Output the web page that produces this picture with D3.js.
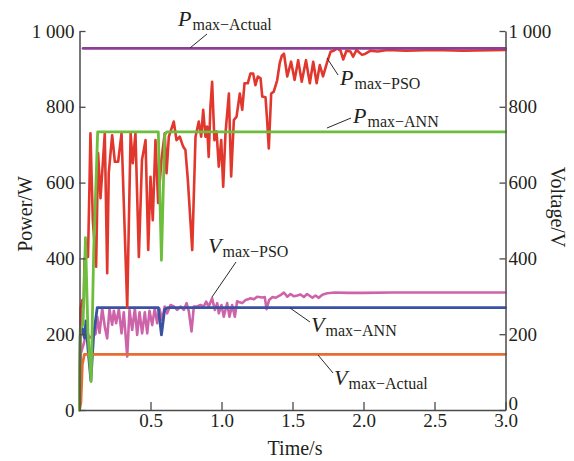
<!DOCTYPE html>
<html>
<head>
<meta charset="utf-8">
<script src="https://cdn.jsdelivr.net/npm/d3@7"></script>
<style>
  html, body { margin: 0; padding: 0; background: #fff; }
  svg { display: block; }
  text { font-family: "Liberation Serif", "Times New Roman", serif; fill: #231f20; }
</style>
</head>
<body>
<svg id="chart" width="574" height="461"></svg>
<script>
// Time / value pairs for each tracked quantity (power in W, voltage in V)
const pActual = [[0.025, 954], [3, 954]];
const pPso = [
  [0, 0], [0.008, 270], [0.02, 290], [0.03, 270], [0.035, 400], [0.06, 404], [0.07, 589], [0.077, 730],
  [0.094, 501], [0.117, 378], [0.131, 678], [0.148, 559], [0.178, 730], [0.195, 361], [0.206, 625],
  [0.23, 725], [0.249, 655], [0.272, 655], [0.296, 730], [0.312, 546], [0.336, 270], [0.36, 730],
  [0.375, 651], [0.394, 730], [0.418, 404], [0.44, 660], [0.465, 712], [0.484, 422], [0.5, 615],
  [0.516, 501], [0.535, 712], [0.554, 546], [0.577, 660], [0.6, 730], [0.613, 625], [0.629, 721],
  [0.664, 761], [0.683, 712], [0.706, 721], [0.73, 695], [0.746, 686], [0.763, 607], [0.794, 422],
  [0.817, 721], [0.84, 761], [0.857, 721], [0.871, 792], [0.887, 721], [0.899, 748], [0.91, 668],
  [0.922, 800], [0.934, 866], [0.95, 712], [0.965, 735], [0.981, 642], [0.998, 712], [1.012, 589],
  [1.028, 730], [1.052, 835], [1.068, 616], [1.087, 765], [1.106, 774], [1.129, 835], [1.146, 792],
  [1.162, 862], [1.185, 862], [1.204, 888], [1.223, 888], [1.239, 857], [1.256, 880], [1.275, 875],
  [1.287, 827], [1.31, 825], [1.322, 760], [1.333, 690], [1.35, 835], [1.368, 840], [1.392, 870],
  [1.41, 915], [1.425, 935], [1.44, 940], [1.463, 880], [1.49, 919], [1.515, 871], [1.54, 923],
  [1.565, 866], [1.595, 923], [1.622, 862], [1.646, 919], [1.67, 862], [1.692, 910], [1.715, 880],
  [1.745, 919], [1.768, 945], [1.79, 948], [1.815, 954], [1.838, 948], [1.857, 925], [1.88, 948],
  [1.908, 946], [1.927, 932], [1.95, 950], [1.99, 937], [2.014, 940], [2.05, 948], [2.1, 946],
  [2.167, 950], [2.3, 948], [2.5, 950], [2.7, 948], [3, 950]
];
const pAnn = [
  [0, 0], [0.005, 215], [0.025, 225], [0.042, 455], [0.06, 200], [0.082, 75], [0.1, 420], [0.128, 734],
  [0.555, 734], [0.577, 395], [0.6, 725], [0.615, 734], [3, 734]
];
const vActual = [[0, 0], [0.01, 20], [0.02, 120], [0.035, 147], [3, 147]];
const vPso = [
  [0, 0], [0.01, 150], [0.03, 175], [0.05, 210], [0.07, 190], [0.09, 195], [0.113, 200], [0.125, 246],
  [0.141, 203], [0.16, 268], [0.178, 220], [0.195, 189], [0.211, 266], [0.23, 225], [0.242, 262],
  [0.258, 229], [0.277, 266], [0.296, 202], [0.312, 258], [0.336, 141], [0.352, 264], [0.371, 211],
  [0.39, 268], [0.406, 198], [0.423, 258], [0.441, 202], [0.46, 258], [0.477, 202], [0.493, 262],
  [0.512, 224], [0.53, 268], [0.547, 229], [0.563, 268], [0.582, 237], [0.6, 273], [0.617, 255],
  [0.641, 277], [0.664, 273], [0.688, 264], [0.711, 273], [0.735, 264], [0.754, 282], [0.77, 260],
  [0.789, 207], [0.805, 273], [0.829, 273], [0.852, 277], [0.875, 273], [0.892, 286], [0.91, 273],
  [0.934, 295], [0.953, 264], [0.97, 282], [0.981, 255], [1.0, 277], [1.016, 246], [1.04, 282],
  [1.056, 246], [1.075, 277], [1.094, 246], [1.11, 287], [1.127, 284], [1.146, 282], [1.169, 290],
  [1.188, 292], [1.204, 295], [1.228, 292], [1.251, 299], [1.287, 297], [1.305, 298], [1.317, 266],
  [1.335, 290], [1.36, 298], [1.38, 296], [1.415, 303], [1.439, 310], [1.463, 299], [1.486, 306],
  [1.51, 300], [1.533, 302], [1.556, 305], [1.58, 298], [1.603, 306], [1.64, 296], [1.662, 302],
  [1.685, 296], [1.71, 304], [1.744, 308], [1.8, 310], [1.885, 309], [2.0, 309], [2.2, 310],
  [2.5, 310], [3, 310]
];
const vAnn = [
  [0, 0], [0.005, 195], [0.02, 215], [0.035, 190], [0.045, 235], [0.06, 160], [0.08, 78], [0.1, 200],
  [0.125, 270], [0.555, 270], [0.577, 198], [0.6, 266], [0.62, 270], [3, 270]
];

// Axis ticks
const xTicks = [0.5, 1.0, 1.5, 2.0, 2.5, 3.0];
const xTickLabels = ["0.5", "1.0", "1.5", "2.0", "2.5", "3.0"];
const yTicks = [0, 200, 400, 600, 800, 1000];
const yTickLabels = ["0", "200", "400", "600", "800", "1 000"];

// Series labels: [italic symbol, subscript text]
const labelNames = [
  ["P", "max\u2212Actual"], ["P", "max\u2212PSO"], ["P", "max\u2212ANN"],
  ["V", "max\u2212PSO"], ["V", "max\u2212ANN"], ["V", "max\u2212Actual"]
];

const svg = d3.select("#chart");
const x = d3.scaleLinear().domain([0, 3]).range([79.5, 505.5]);
const y = d3.scaleLinear().domain([0, 1000]).range([410, 31]);

const axisColor = "#4a4a4a";
const tickFont = 19;

function styleAxis(g) {
  g.select(".domain").attr("stroke", axisColor).attr("stroke-width", 1.5);
  g.selectAll(".tick line").attr("stroke", axisColor).attr("stroke-width", 1.3);
  g.selectAll(".tick text")
    .attr("font-family", "Liberation Serif, Times New Roman, serif")
    .attr("font-size", tickFont)
    .attr("fill", "#231f20");
}

// Data lines
const line = d3.line().x(d => x(d[0])).y(d => y(d[1]));
const series = [
  { data: vPso, color: "#cd64aa", width: 2.6 },
  { data: vAnn, color: "#3a52a2", width: 2.8 },
  { data: vActual, color: "#e66e32", width: 2.8 },
  { data: pPso, color: "#e1372d", width: 2.6 },
  { data: pAnn, color: "#6dbe3c", width: 2.8 },
  { data: pActual, color: "#8e3e96", width: 2.8 }
];
svg.append("g").selectAll("path").data(series).join("path")
  .attr("d", s => line(s.data))
  .attr("fill", "none")
  .attr("stroke", s => s.color)
  .attr("stroke-width", s => s.width)
  .attr("stroke-linejoin", "round")
  .attr("stroke-linecap", "round");

// Axes (ticks point inward)
svg.append("g")
  .attr("transform", `translate(${x(0)},0)`)
  .call(d3.axisLeft(y).tickValues(yTicks).tickSizeInner(-6).tickSizeOuter(0).tickPadding(5)
    .tickFormat((d, i) => yTickLabels[i]))
  .call(styleAxis);

const right = svg.append("g")
  .attr("transform", `translate(${x(3)},0)`)
  .call(d3.axisRight(y).tickValues(yTicks).tickSizeInner(-6).tickSizeOuter(0).tickPadding(3)
    .tickFormat((d, i) => yTickLabels[i]))
  .call(styleAxis);
// lift the bottom-right zero so it sits clear of the time labels
right.selectAll(".tick text").filter(d => d === 0).attr("dy", "-0.05em");

svg.append("g")
  .attr("transform", `translate(0,${y(0)})`)
  .call(d3.axisBottom(x).tickValues(xTicks).tickSizeInner(-8).tickSizeOuter(0).tickPadding(4)
    .tickFormat((d, i) => xTickLabels[i]))
  .call(styleAxis);

// Axis titles
svg.append("text")
  .attr("x", 295).attr("y", 455)
  .attr("text-anchor", "middle").attr("font-size", 20)
  .text("Time/s");
svg.append("text")
  .attr("transform", "translate(32,214) rotate(-90)")
  .attr("text-anchor", "middle").attr("font-size", 20)
  .text("Power/W");
svg.append("text")
  .attr("transform", "translate(551,207) rotate(90)")
  .attr("text-anchor", "middle").attr("font-size", 20)
  .text("Voltage/V");

// Series annotations with leader lines
const labelPos = [
  { x: 178, y: 26, lx1: 190, ly1: 48, lx2: 207, ly2: 34 },
  { x: 340, y: 85, lx1: 327, ly1: 58, lx2: 338, ly2: 75 },
  { x: 353, y: 123, lx1: 327, ly1: 128, lx2: 351, ly2: 118 },
  { x: 208, y: 253, lx1: 236, ly1: 262, lx2: 212, ly2: 297 },
  { x: 311, y: 332, lx1: 290, ly1: 308, lx2: 310, ly2: 322 },
  { x: 334, y: 385, lx1: 318, ly1: 355, lx2: 333, ly2: 373 }
];
const ann = svg.append("g");
labelNames.forEach((nm, i) => {
  const p = labelPos[i];
  ann.append("line")
    .attr("x1", p.lx1).attr("y1", p.ly1).attr("x2", p.lx2).attr("y2", p.ly2)
    .attr("stroke", "#2a2a2a").attr("stroke-width", 1);
  const t = ann.append("text").attr("x", p.x).attr("y", p.y);
  t.append("tspan").attr("font-style", "italic").attr("font-size", 22).text(nm[0]);
  t.append("tspan").attr("font-size", 16).attr("dy", 4).attr("dx", 1).text(nm[1]);
});
</script>
</body>
</html>
